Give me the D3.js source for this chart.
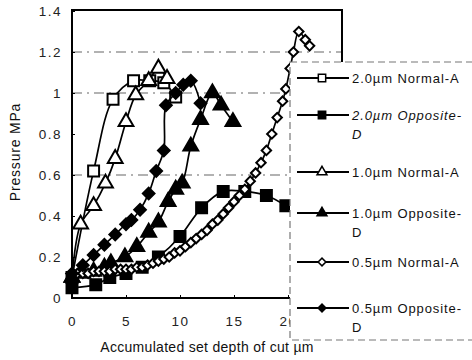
<!DOCTYPE html>
<html>
<head>
<meta charset="utf-8">
<script src="https://cdn.jsdelivr.net/npm/d3@7"></script>
<style>
  body { margin: 0; background: #fff; }
  svg { display: block; font-family: "Liberation Sans", Arial, sans-serif; }
</style>
</head>
<body>
<div id="chart"></div>
<script>
const width = 472;
const height = 360;

// Series names (legend text, split into lines)
const seriesNames = [
  ['2.0\u00b5m Normal-A'],
  ['2.0\u00b5m Opposite-', 'D'],
  ['1.0\u00b5m Normal-A'],
  ['1.0\u00b5m Opposite-', 'D'],
  ['0.5\u00b5m Normal-A'],
  ['0.5\u00b5m Opposite-', 'D']
];

// Depth of cut (x) and pressure (y)
const depth20N = [0, 2, 3.8, 5.7, 7.2, 8.5, 9.6];
const press20N = [0.1, 0.62, 0.97, 1.06, 1.06, 1.05, 0.98];

const depth20O = [0, 2.2, 3.5, 5, 6.5, 8, 10, 12, 14, 16, 18, 19.8];
const press20O = [0.05, 0.065, 0.1, 0.12, 0.15, 0.2, 0.3, 0.44, 0.52, 0.52, 0.5, 0.45];

const depth10N = [0, 0.8, 2, 3.1, 4, 5, 5.9, 7.1, 8, 8.8];
const press10N = [0.1, 0.36, 0.45, 0.56, 0.68, 0.86, 0.99, 1.06, 1.12, 1.07];

const depth10O = [0, 1, 2, 3, 3.6, 4.9, 6, 7.1, 8, 8.9, 9.6, 10.2, 11, 11.9, 13, 13.8, 14.9];
const press10O = [0.1, 0.12, 0.13, 0.15, 0.17, 0.2, 0.25, 0.32, 0.37, 0.47, 0.53, 0.56, 0.74, 0.87, 1.0, 0.94, 0.86];

const depth05N = [0, 0.5, 1, 1.5, 2, 2.5, 3, 3.5, 4, 4.5, 5, 5.5, 6, 6.5, 7, 7.5, 8, 8.5, 9, 9.5,
  10, 10.5, 11, 11.5, 12, 12.5, 13, 13.5, 14, 14.5, 15, 15.5, 16, 16.5, 17, 17.5, 18, 18.5, 19, 19.5,
  19.8, 20.2, 20.5, 21, 21.6, 22];
const press05N = [0.12, 0.12, 0.12, 0.12, 0.13, 0.13, 0.13, 0.13, 0.14, 0.14, 0.14, 0.14, 0.15, 0.15, 0.16, 0.17, 0.18, 0.19, 0.2, 0.22,
  0.23, 0.25, 0.27, 0.29, 0.31, 0.33, 0.36, 0.38, 0.41, 0.44, 0.47, 0.5, 0.53, 0.57, 0.61, 0.66, 0.72, 0.8, 0.88, 0.96,
  1.02, 1.12, 1.2, 1.3, 1.26, 1.23];

const depth05O = [0, 1, 2, 3, 4, 5, 5.5, 6.3, 7.1, 7.8, 8.5, 8.7, 9.6, 10.3, 11, 11.9];
const press05O = [0.12, 0.16, 0.21, 0.26, 0.31, 0.36, 0.38, 0.43, 0.51, 0.62, 0.72, 0.94, 1.0, 1.04, 1.06, 0.95];

const xTicks = [0, 5, 10, 15, 20];
const yTicks = [0, 0.2, 0.4, 0.6, 0.8, 1, 1.2, 1.4];
const gridValues = [0.6, 1, 1.2];

const series = [
  { x: depth20N, y: press20N, shape: 'square', fill: '#fff' },
  { x: depth20O, y: press20O, shape: 'square', fill: '#000' },
  { x: depth10N, y: press10N, shape: 'triangle', fill: '#fff' },
  { x: depth10O, y: press10O, shape: 'triangle', fill: '#000' },
  { x: depth05N, y: press05N, shape: 'diamond', fill: '#fff' },
  { x: depth05O, y: press05O, shape: 'diamond', fill: '#000' }
].map((s, i) => ({ ...s, name: seriesNames[i], points: s.x.map((v, j) => [v, s.y[j]]) }));

// Plot box
const plotLeft = 72, plotRight = 342, plotTop = 11, plotBottom = 298;

const x = d3.scaleLinear().domain([0, 25]).range([plotLeft, plotRight]);
const y = d3.scaleLinear().domain([0, 1.4]).range([plotBottom, plotTop]);

const svg = d3.select('#chart')
  .append('svg')
  .attr('width', width)
  .attr('height', height);

// Gridlines (dash-dot)
svg.append('g')
  .selectAll('line')
  .data(gridValues)
  .enter().append('line')
  .attr('x1', plotLeft).attr('x2', plotRight)
  .attr('y1', d => y(d)).attr('y2', d => y(d))
  .attr('stroke', '#666')
  .attr('stroke-width', 1.2)
  .attr('stroke-dasharray', '10,5,2,5');

// Frame
svg.append('rect')
  .attr('x', plotLeft).attr('y', plotTop - 1)
  .attr('width', plotRight - plotLeft).attr('height', plotBottom - plotTop + 1)
  .attr('fill', 'none')
  .attr('stroke', '#000')
  .attr('stroke-width', 2);

// Axes
const xAxis = svg.append('g')
  .attr('transform', `translate(0,${plotBottom})`)
  .call(d3.axisBottom(x).tickValues(xTicks).tickSize(-3).tickPadding(18).tickFormat(d3.format('d')));
const yAxis = svg.append('g')
  .attr('transform', `translate(${plotLeft},0)`)
  .call(d3.axisLeft(y).tickValues(yTicks).tickSize(-3).tickPadding(10).tickFormat(d => d === 0 || d === 1 ? d : d3.format('.1f')(d)));

[xAxis, yAxis].forEach(a => {
  a.select('.domain').remove();
  a.selectAll('.tick line').attr('stroke', '#000');
  a.selectAll('text')
    .attr('fill', '#222')
    .style('font-size', '13.5px')
    .style('letter-spacing', '1.5px');
});

// Lines and markers
const line = d3.line()
  .x(d => x(d[0]))
  .y(d => y(d[1]))
  .curve(d3.curveCatmullRom.alpha(0.5));

function symbolPath(shape, scale) {
  if (shape === 'square') return d3.symbol(d3.symbolSquare, 120 * scale)();
  if (shape === 'triangle') return d3.symbol(d3.symbolTriangle, 95 * scale)();
  return d3.symbol(d3.symbolSquare, 68 * scale)();
}

const groups = svg.append('g')
  .selectAll('g')
  .data(series)
  .enter().append('g');

groups.append('path')
  .attr('d', d => line(d.points))
  .attr('fill', 'none')
  .attr('stroke', '#000')
  .attr('stroke-width', 1.7);

groups.each(function(s) {
  const scale = s.shape === 'diamond' && s.fill === '#fff' ? 0.65 : 1;
  d3.select(this).selectAll('.mark')
    .data(s.points)
    .enter().append('path')
    .attr('class', 'mark')
    .attr('d', symbolPath(s.shape, scale))
    .attr('transform', d => `translate(${x(d[0])},${y(d[1])})` + (s.shape === 'diamond' ? ' rotate(45)' : ''))
    .attr('fill', s.fill)
    .attr('stroke', '#000')
    .attr('stroke-width', 2);
});

// Axis titles
svg.append('text')
  .attr('x', 207).attr('y', 352)
  .attr('text-anchor', 'middle')
  .attr('fill', '#111')
  .style('font-size', '14px')
  .style('letter-spacing', '0.3px')
  .text('Accumulated set depth of cut \u00b5m');

svg.append('text')
  .attr('transform', 'translate(20,152) rotate(-90)')
  .attr('text-anchor', 'middle')
  .attr('fill', '#111')
  .style('font-size', '14px')
  .style('letter-spacing', '0.8px')
  .text('Pressure  MPa');

// Legend
const legend = svg.append('g');
legend.append('rect')
  .attr('x', 290).attr('y', 62)
  .attr('width', 190).attr('height', 278)
  .attr('fill', '#fff')
  .attr('stroke', '#777')
  .attr('stroke-width', 1.2)
  .attr('stroke-dasharray', '7,4');

const legendY = [78, 115, 172, 213, 262, 308];

const items = legend.selectAll('.item')
  .data(series)
  .enter().append('g')
  .attr('class', 'item')
  .attr('transform', (d, i) => `translate(0,${legendY[i]})`);

items.append('line')
  .attr('x1', 297).attr('x2', 349)
  .attr('stroke', '#000')
  .attr('stroke-width', 1.8);

items.append('path')
  .attr('d', d => symbolPath(d.shape, 0.45))
  .attr('transform', d => 'translate(322,0)' + (d.shape === 'diamond' ? ' rotate(45)' : ''))
  .attr('fill', d => d.fill)
  .attr('stroke', '#000')
  .attr('stroke-width', 1.5);

items.append('text')
  .attr('x', 352)
  .attr('y', 5)
  .attr('fill', '#111')
  .style('font-size', '13px')
  .style('letter-spacing', '0.9px')
  .style('font-style', (d, i) => i === 1 ? 'italic' : 'normal')
  .selectAll('tspan')
  .data(d => d.name)
  .enter().append('tspan')
  .attr('x', 352)
  .attr('dy', (d, i) => i === 0 ? 0 : 19)
  .text(d => d);
</script>
</body>
</html>
